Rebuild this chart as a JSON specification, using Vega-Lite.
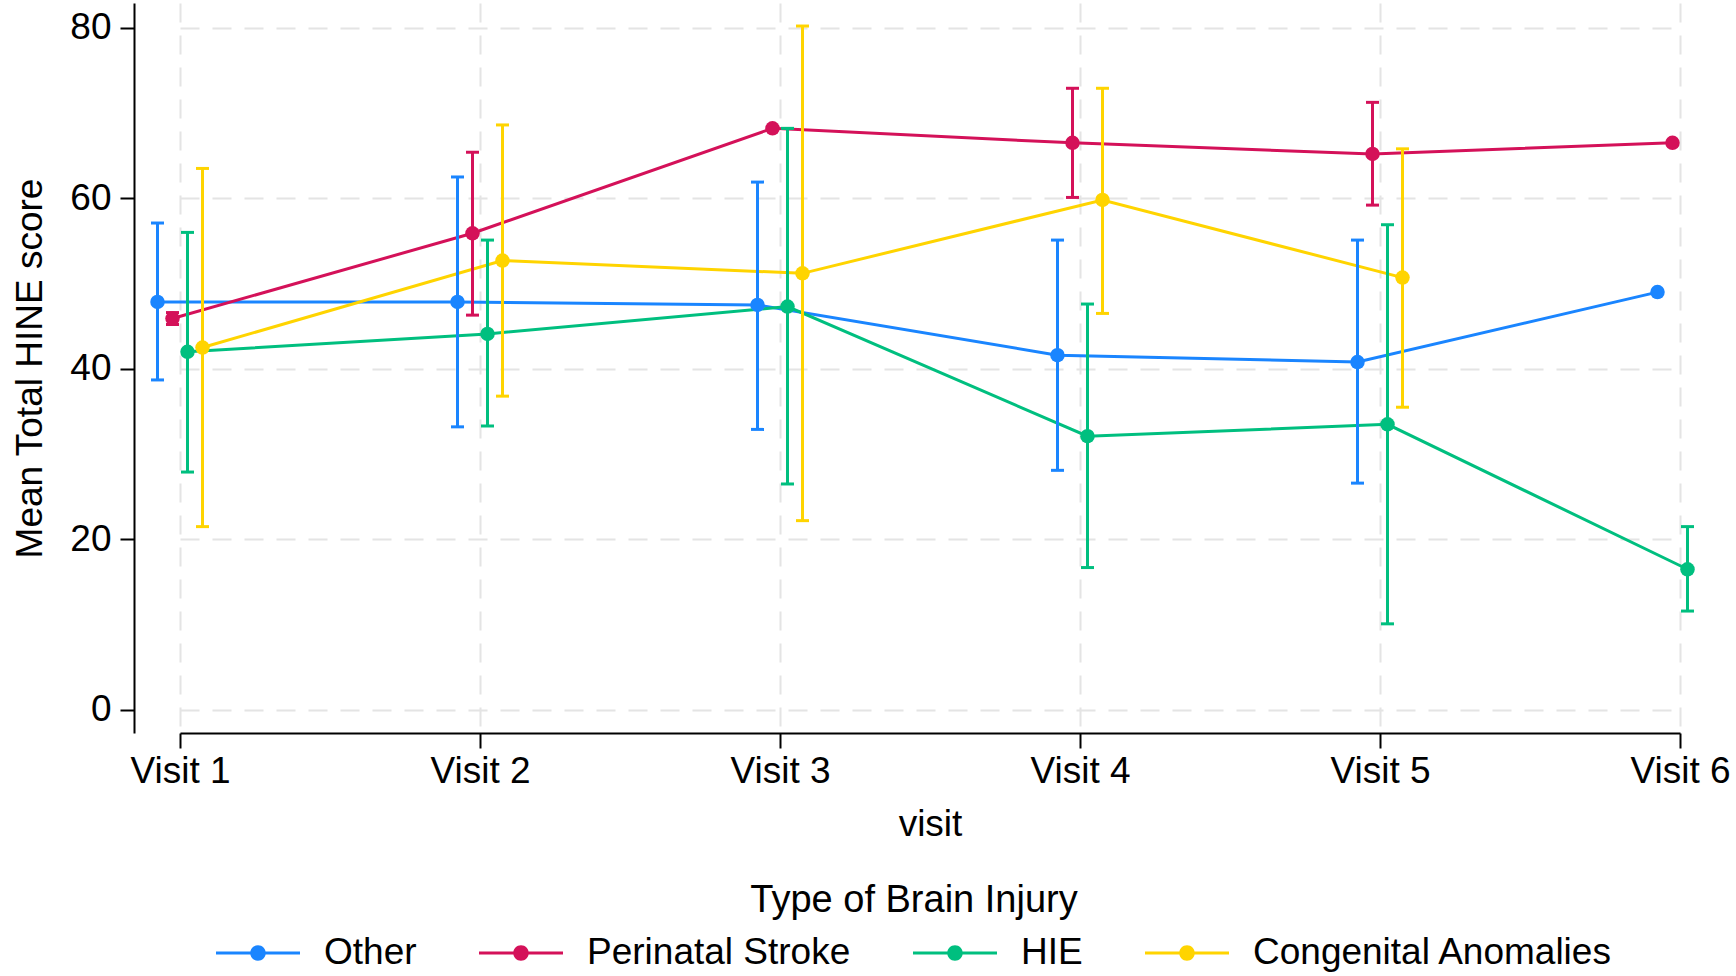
{
  "$schema": "https://vega.github.io/schema/vega-lite/v6.json",
  "width": 1576,
  "height": 730,
  "autosize": {"type": "none"},
  "padding": {"left": 134, "top": 3, "right": 26, "bottom": 243},
  "background": "white",
  "config": {
    "font": "Liberation Sans",
    "view": {"stroke": null},
    "axis": {
      "labelFont": "Liberation Sans",
      "titleFont": "Liberation Sans",
      "labelFontSize": 37,
      "titleFontSize": 37,
      "titleFontWeight": "normal",
      "labelColor": "black",
      "titleColor": "black",
      "domainColor": "black",
      "domainWidth": 2,
      "tickColor": "black",
      "tickWidth": 2,
      "gridColor": "#e4e4e4",
      "gridWidth": 2,
      "gridDash": [19, 13]
    },
    "legend": {
      "labelFont": "Liberation Sans",
      "titleFont": "Liberation Sans",
      "labelFontSize": 37,
      "titleFontSize": 38,
      "titleFontWeight": "normal",
      "labelColor": "black",
      "titleColor": "black",
      "labelLimit": 0,
      "titleLimit": 0
    }
  },
  "data": {
    "values": [
      {"visit": "Visit 1", "group": "Other", "mean": 47.85, "lo": 38.7, "hi": 57.1},
      {"visit": "Visit 1", "group": "Perinatal Stroke", "mean": 45.9, "lo": 45.2, "hi": 46.6},
      {"visit": "Visit 1", "group": "HIE", "mean": 42.0, "lo": 27.9, "hi": 56.0},
      {"visit": "Visit 1", "group": "Congenital Anomalies", "mean": 42.5, "lo": 21.5, "hi": 63.5},
      {"visit": "Visit 2", "group": "Other", "mean": 47.85, "lo": 33.2, "hi": 62.5},
      {"visit": "Visit 2", "group": "Perinatal Stroke", "mean": 55.9, "lo": 46.3, "hi": 65.4},
      {"visit": "Visit 2", "group": "HIE", "mean": 44.1, "lo": 33.3, "hi": 55.1},
      {"visit": "Visit 2", "group": "Congenital Anomalies", "mean": 52.7, "lo": 36.8, "hi": 68.6},
      {"visit": "Visit 3", "group": "Other", "mean": 47.5, "lo": 32.9, "hi": 61.9},
      {"visit": "Visit 3", "group": "Perinatal Stroke", "mean": 68.2, "lo": null, "hi": null},
      {"visit": "Visit 3", "group": "HIE", "mean": 47.3, "lo": 26.5, "hi": 68.2},
      {"visit": "Visit 3", "group": "Congenital Anomalies", "mean": 51.2, "lo": 22.2, "hi": 80.2},
      {"visit": "Visit 4", "group": "Other", "mean": 41.6, "lo": 28.1, "hi": 55.1},
      {"visit": "Visit 4", "group": "Perinatal Stroke", "mean": 66.5, "lo": 60.1, "hi": 72.9},
      {"visit": "Visit 4", "group": "HIE", "mean": 32.1, "lo": 16.7, "hi": 47.6},
      {"visit": "Visit 4", "group": "Congenital Anomalies", "mean": 59.8, "lo": 46.5, "hi": 72.9},
      {"visit": "Visit 5", "group": "Other", "mean": 40.8, "lo": 26.6, "hi": 55.1},
      {"visit": "Visit 5", "group": "Perinatal Stroke", "mean": 65.2, "lo": 59.2, "hi": 71.25},
      {"visit": "Visit 5", "group": "HIE", "mean": 33.5, "lo": 10.1, "hi": 56.9},
      {"visit": "Visit 5", "group": "Congenital Anomalies", "mean": 50.7, "lo": 35.5, "hi": 65.8},
      {"visit": "Visit 6", "group": "Other", "mean": 49.0, "lo": null, "hi": null},
      {"visit": "Visit 6", "group": "Perinatal Stroke", "mean": 66.5, "lo": null, "hi": null},
      {"visit": "Visit 6", "group": "HIE", "mean": 16.5, "lo": 11.6, "hi": 21.5}
    ]
  },
  "encoding": {
    "x": {
      "field": "visit",
      "type": "ordinal",
      "scale": {"type": "point", "range": [46, 1546], "padding": 0},
      "axis": {"title": "visit", "grid": true, "tickSize": 15, "labelPadding": 5, "titlePadding": 17, "labelAngle": 0}
    },
    "xOffset": {
      "field": "group",
      "type": "nominal",
      "scale": {"type": "point", "domain": ["Other", "Perinatal Stroke", "HIE", "Congenital Anomalies"], "range": [-22.5, 22.5], "padding": 0}
    },
    "color": {
      "field": "group",
      "type": "nominal",
      "scale": {
        "domain": ["Other", "Perinatal Stroke", "HIE", "Congenital Anomalies"],
        "range": ["#1a85ff", "#d41159", "#00bf7f", "#ffd400"]
      },
      "legend": {
        "orient": "none",
        "legendX": 82,
        "legendY": 879,
        "direction": "horizontal",
        "title": "Type of Brain Injury",
        "titleAnchor": "middle",
        "titlePadding": -9,
        "symbolType": "M-1,-0.036L1,-0.036L1,0.036L-1,0.036ZM0.185,0A0.185,0.185,0,1,1,-0.185,0A0.185,0.185,0,1,1,0.185,0Z",
        "symbolSize": 7056,
        "symbolStrokeWidth": 0,
        "symbolOpacity": 1,
        "labelOffset": 24,
        "columnPadding": 62,
        "labelLimit": 0,
        "titleLimit": 0,
        "encode": {
          "symbols": {"update": {"fill": {"scale": "color", "field": "value"}, "stroke": {"value": "transparent"}, "opacity": {"value": 1}}}
        }
      }
    }
  },
  "layer": [
    {
      "mark": {"type": "line", "strokeWidth": 3},
      "encoding": {
        "y": {
          "field": "mean", "type": "quantitative", "title": "Mean Total HINE score",
          "scale": {"domain": [-2.7, 82.9], "nice": false, "zero": false},
          "axis": {"values": [0, 20, 40, 60, 80], "tickSize": 14, "labelPadding": 9, "titlePadding": 20, "title": "Mean Total HINE score"}
        }
      }
    },
    {
      "transform": [{"filter": "datum.lo != null"}],
      "mark": {"type": "rule", "strokeWidth": 3},
      "encoding": {
        "y": {"field": "lo", "type": "quantitative", "title": "Mean Total HINE score"},
        "y2": {"field": "hi"}
      }
    },
    {
      "transform": [{"filter": "datum.lo != null"}],
      "mark": {"type": "tick", "thickness": 3, "size": 13, "orient": "horizontal", "opacity": 1},
      "encoding": {
        "y": {"field": "lo", "type": "quantitative", "title": "Mean Total HINE score"}
      }
    },
    {
      "transform": [{"filter": "datum.hi != null"}],
      "mark": {"type": "tick", "thickness": 3, "size": 13, "orient": "horizontal", "opacity": 1},
      "encoding": {
        "y": {"field": "hi", "type": "quantitative", "title": "Mean Total HINE score"}
      }
    },
    {
      "mark": {"type": "point", "filled": true, "size": 210, "opacity": 1},
      "encoding": {
        "y": {"field": "mean", "type": "quantitative", "title": "Mean Total HINE score"}
      }
    }
  ]
}
